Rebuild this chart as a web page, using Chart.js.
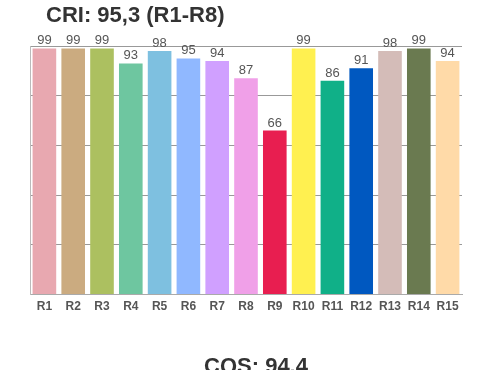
<!DOCTYPE html>
<html>
<head>
<meta charset="utf-8">
<script src="https://cdn.jsdelivr.net/npm/chart.js@4"></script>
<style>
  body { margin: 0; background: #fff; font-family: "Liberation Sans", Arial, sans-serif; }
  .wrap { position: relative; width: 500px; height: 370px; overflow: hidden; }
  .title { position: absolute; left: 46px; top: 2px; font-size: 22px; font-weight: bold; color: #333; }
  .footer { position: absolute; left: 0; width: 512px; text-align: center; top: 353px; font-size: 22px; font-weight: bold; color: #333; }
  canvas { position: absolute; left: 0; top: 0; }
</style>
</head>
<body>
<div class="wrap">
  <canvas id="criChart" width="500" height="370"></canvas>
  <div class="title">CRI: 95,3 (R1-R8)</div>
  <div class="footer">CQS: 94.4</div>
</div>
<script>
  // Chart data
  var categories = ["R1", "R2", "R3", "R4", "R5", "R6", "R7", "R8", "R9", "R10", "R11", "R12", "R13", "R14", "R15"];
  var values = [99, 99, 99, 93, 98, 95, 94, 87, 66, 99, 86, 91, 98, 99, 94];
  var barColors = ["#e8a8b0", "#cbab80", "#acc060", "#6ec6a0", "#7ec0e0", "#90b8ff", "#d0a0ff", "#f0a0e8",
    "#e81e50", "#fff050", "#10b088", "#0058c0", "#d4bcb8", "#6a7a50", "#ffdaa8"];
  var yTicks = [0, 20, 40, 60, 80, 100];

  // Value labels above bars
  var valueLabels = {
    id: "valueLabels",
    afterDatasetsDraw: function (chart) {
      var ctx = chart.ctx;
      var meta = chart.getDatasetMeta(0);
      ctx.save();
      ctx.font = "13px 'Liberation Sans', Arial, sans-serif";
      ctx.fillStyle = "#555";
      ctx.textAlign = "center";
      ctx.textBaseline = "alphabetic";
      meta.data.forEach(function (bar, i) {
        ctx.fillText(values[i], bar.x, bar.y - 4);
      });
      ctx.restore();
    },
  };

  var ctx = document.getElementById("criChart").getContext("2d");
  var criChart = new Chart(ctx, {
    type: "bar",
    data: {
      labels: categories,
      datasets: [
        {
          data: values,
          backgroundColor: barColors,
          borderWidth: 0,
          categoryPercentage: 1,
          barPercentage: 0.82,
        },
      ],
    },
    options: {
      responsive: false,
      animation: false,
      layout: {
        padding: { top: 46, right: 38, bottom: 59, left: 30 },
      },
      plugins: {
        legend: { display: false },
        tooltip: { enabled: false },
      },
      scales: {
        x: {
          ticks: {
            color: "#555",
            font: { family: "'Liberation Sans', Arial, sans-serif", size: 12, weight: "bold" },
            padding: -3,
            maxRotation: 0,
            autoSkip: false,
          },
          grid: { display: false },
          border: { color: "#aaa", width: 1 },
        },
        y: {
          min: 0,
          max: 100,
          afterBuildTicks: function (axis) {
            axis.ticks = yTicks.map(function (v) { return { value: v }; });
          },
          ticks: { display: false },
          grid: {
            color: "#999",
            tickLength: 0,
            drawTicks: false,
          },
          border: { color: "#bbb", width: 1 },
        },
      },
    },
    plugins: [valueLabels],
  });
</script>
</body>
</html>
